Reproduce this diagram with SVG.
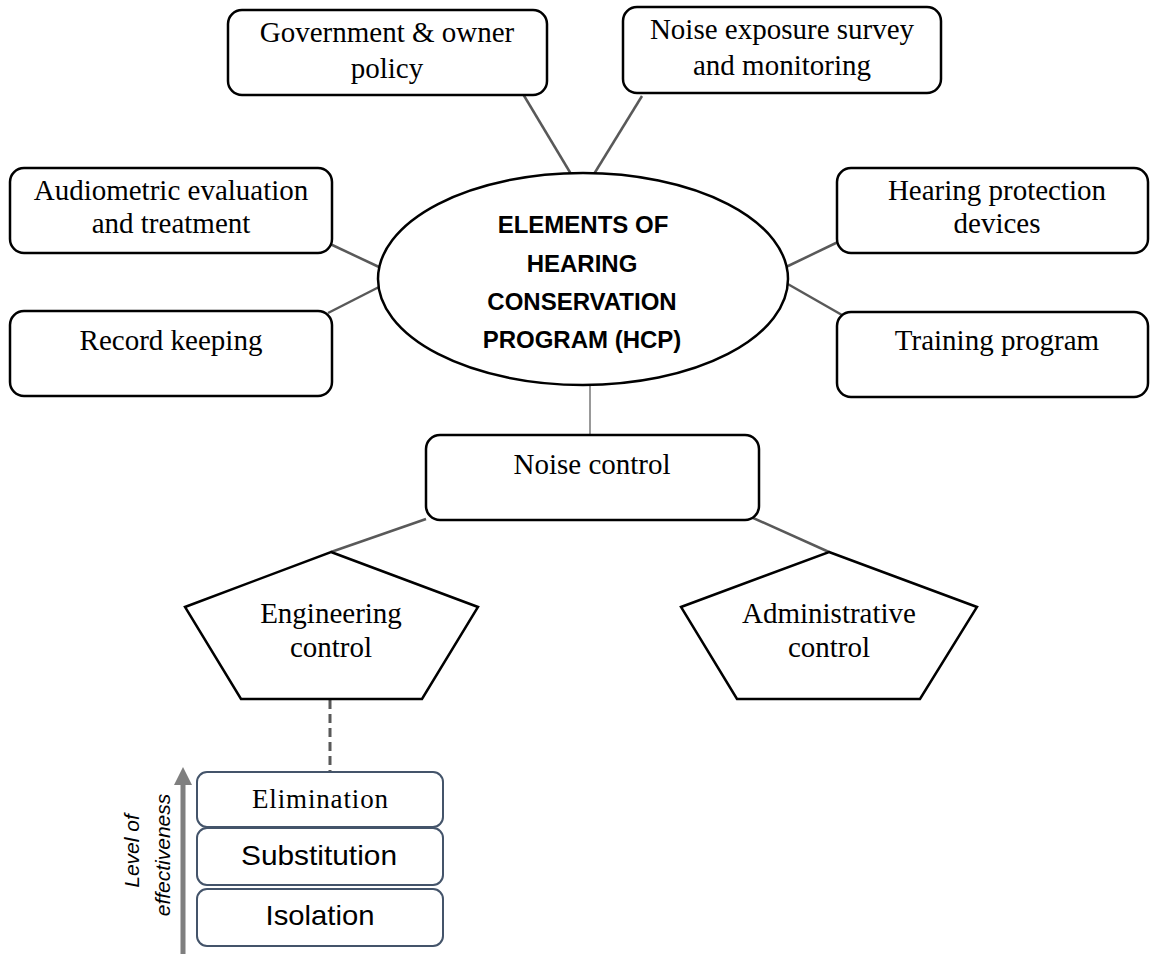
<svg xmlns="http://www.w3.org/2000/svg" width="1151" height="954" viewBox="0 0 1151 954">
<defs>
<style>
.box{fill:#fff;stroke:#000;stroke-width:2.5}
.pent{fill:#fff;stroke:#000;stroke-width:2.5;stroke-linejoin:miter}
.lvl{fill:#fff;stroke:#44546A;stroke-width:2}
.t{font-family:"Liberation Serif","Times New Roman",serif;font-size:29px;fill:#000;text-anchor:middle}
.b{font-family:"Liberation Sans",Arial,sans-serif;font-size:24px;font-weight:bold;fill:#000;text-anchor:middle}
.s{font-family:"Liberation Sans",Arial,sans-serif;font-size:28px;fill:#000;text-anchor:middle}
.i{font-family:"Liberation Sans",Arial,sans-serif;font-size:21px;font-style:italic;fill:#000;text-anchor:middle}
.c{stroke:#595959;stroke-width:2.5;fill:none}
</style>
</defs>
<rect width="1151" height="954" fill="#fff"/>

<g id="connectors">
<line class="c" x1="523" y1="94" x2="571" y2="174"/>
<line class="c" x1="642" y1="96" x2="594" y2="174"/>
<line class="c" x1="328" y1="243" x2="379" y2="267"/>
<line class="c" x1="328" y1="313" x2="379" y2="287"/>
<line class="c" x1="786" y1="267" x2="838" y2="242"/>
<line class="c" x1="786" y1="283" x2="842" y2="315"/>
<line class="c" x1="590" y1="385" x2="590" y2="435" style="stroke-width:1.5;stroke:#777"/>
<line class="c" x1="426" y1="519" x2="331" y2="552"/>
<line class="c" x1="742" y1="513" x2="829" y2="552"/>
<line class="c" x1="330" y1="700" x2="330" y2="772" style="stroke-width:3;stroke-dasharray:9 5"/>
</g>

<g id="gov">
<rect class="box" x="228" y="10" width="319" height="85" rx="14"/>
<text class="t" x="387" y="42">Government &amp; owner</text>
<text class="t" x="387" y="78">policy</text>
</g>
<g id="survey">
<rect class="box" x="623" y="7" width="318" height="86" rx="14"/>
<text class="t" x="782" y="39">Noise exposure survey</text>
<text class="t" x="782" y="75">and monitoring</text>
</g>
<g id="audio">
<rect class="box" x="10" y="168" width="322" height="85" rx="14"/>
<text class="t" x="171" y="200">Audiometric evaluation</text>
<text class="t" x="171" y="233">and treatment</text>
</g>
<g id="record">
<rect class="box" x="10" y="311" width="322" height="85" rx="14"/>
<text class="t" x="171" y="350">Record keeping</text>
</g>
<g id="hearing">
<rect class="box" x="837" y="168" width="311" height="85" rx="14"/>
<text class="t" x="997" y="200">Hearing protection</text>
<text class="t" x="997" y="233">devices</text>
</g>
<g id="training">
<rect class="box" x="837" y="312" width="311" height="85" rx="14"/>
<text class="t" x="997" y="350">Training program</text>
</g>
<g id="hcp">
<ellipse class="box" cx="583" cy="279" rx="205" ry="106"/>
<text class="b" x="583" y="233">ELEMENTS OF</text>
<text class="b" x="582" y="272">HEARING</text>
<text class="b" x="582" y="310">CONSERVATION</text>
<text class="b" x="582" y="348">PROGRAM (HCP)</text>
</g>
<g id="noisecontrol">
<rect class="box" x="426" y="435" width="333" height="85" rx="14"/>
<text class="t" x="592" y="474">Noise control</text>
</g>
<g id="engineering">
<polygon class="pent" points="331,552 478,607 422,699 241,699 185,607"/>
<text class="t" x="331" y="623">Engineering</text>
<text class="t" x="331" y="657">control</text>
</g>
<g id="administrative">
<polygon class="pent" points="829,552 977,607 920,699 737,699 681,607"/>
<text class="t" x="829" y="623">Administrative</text>
<text class="t" x="829" y="657">control</text>
</g>
<g id="elimination">
<rect class="lvl" x="197" y="772" width="246" height="55" rx="10"/>
<text class="t" x="320" y="808" style="font-size:27px" textLength="136" lengthAdjust="spacing">Elimination</text>
</g>
<g id="substitution">
<rect class="lvl" x="197" y="828" width="246" height="57" rx="10"/>
<text class="s" x="319" y="865" textLength="156" lengthAdjust="spacingAndGlyphs">Substitution</text>
</g>
<g id="isolation">
<rect class="lvl" x="197" y="889" width="246" height="57" rx="10"/>
<text class="s" x="320" y="925" textLength="109" lengthAdjust="spacingAndGlyphs">Isolation</text>
</g>
<g id="effectiveness">
<line x1="183" y1="954" x2="183" y2="784" stroke="#7F7F7F" stroke-width="5"/>
<polygon points="183,767 192,785 174,785" fill="#7F7F7F"/>
<text class="i" transform="translate(139,851) rotate(-90)">Level of</text>
<text class="i" transform="translate(170,855) rotate(-90)">effectiveness</text>
</g>
</svg>
